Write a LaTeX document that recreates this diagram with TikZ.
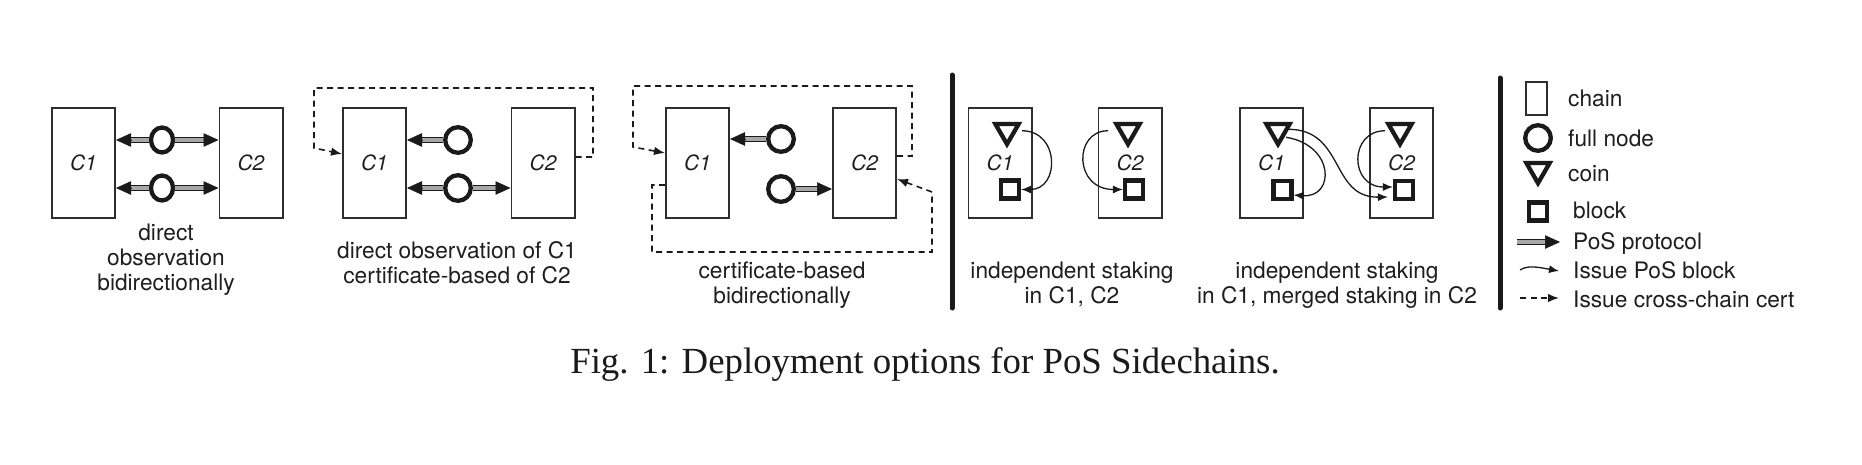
\documentclass[tikz,border=0pt]{standalone}
\usepackage{fontspec}
\setmainfont{Liberation Serif}
\setsansfont{TeX Gyre Heros}
\usetikzlibrary{arrows.meta,shapes.geometric,calc}
\definecolor{ink}{HTML}{1A1A1A}
\definecolor{boxc}{HTML}{2E2E2E}
\definecolor{posgray}{HTML}{A8A8A8}
\definecolor{txt}{HTML}{1E1E1E}
\newcommand{\posconn}[2]{\draw[posshaft] #1 -- #2; \draw[poshead] ($#2!15pt!#1$) -- #2;}
\begin{document}
\begin{tikzpicture}[x=1pt,y=-1pt,
 chain/.style={rectangle, draw=boxc, line width=1.8pt, minimum width=63.2pt, minimum height=110.2pt, inner sep=0pt, text=txt, font=\sffamily\itshape\fontsize{21}{24}\selectfont},
 fnode/.style={circle, draw=ink, line width=4.3pt, minimum size=25.6pt, inner sep=0pt},
 fnodeE/.style={ellipse, draw=ink, line width=4.3pt, minimum width=22pt, minimum height=25pt, inner sep=0pt},
 coin/.style={regular polygon, regular polygon sides=3, shape border rotate=180, draw=ink, line width=4.3pt, minimum size=26.8pt, inner sep=0pt},
 block/.style={rectangle, draw=ink, line width=4.5pt, minimum size=17.6pt, inner sep=0pt},
 poshead/.style={draw=ink, line width=0.5pt, -{Triangle[length=15pt,width=13.5pt]}},
 posshaft/.style={draw=ink, line width=1pt, double=posgray, double distance=3.3pt, shorten >=11pt},
 cert/.style={draw=ink, line width=1.6pt, dash pattern=on 6pt off 4.5pt, -{Latex[length=11pt,width=8.5pt]}},
 issue/.style={draw=ink, line width=1.3pt, -{Latex[length=10pt,width=8pt]}},
 sepline/.style={draw=ink, line width=5pt, line cap=round},
 lbl/.style={font=\sffamily\fontsize{22.7}{25}\selectfont, text=txt, inner sep=0pt, anchor=base},
 leg/.style={lbl, anchor=base west},
]
\useasboundingbox (0,0) rectangle (1862,464);

% ---------- Panel 1
\node[chain] (b1a) at (83.5,163) {C1};
\node[chain] (b1b) at (251,163) {C2};
\node[fnodeE] (n1a) at (162,140) {};
\node[fnodeE] (n1b) at (162,188) {};
\posconn{(n1a)}{(n1a -| b1a.east)}
\posconn{(n1a)}{(n1a -| b1b.west)}
\posconn{(n1b)}{(n1b -| b1a.east)}
\posconn{(n1b)}{(n1b -| b1b.west)}
\node[lbl] (t1a) at (166,240) {direct};
\node[lbl] (t1b) at (166,265.5) {observation};
\node[lbl] (t1c) at (166,290.5) {bidirectionally};

% ---------- Panel 2
\node[chain] (b2a) at (374.5,163) {C1};
\node[chain] (b2b) at (543,163) {C2};
\node[fnode] (n2a) at (458,140) {};
\node[fnode] (n2b) at (458,188) {};
\posconn{(n2a)}{(n2a -| b2a.east)}
\posconn{(n2b)}{(n2b -| b2a.east)}
\posconn{(n2b)}{(n2b -| b2b.west)}
\draw[cert] (b2b.east |- 0,157) -- (593,157) -- (593,88) -- (314,88) -- (314,148) -- (b2a.west |- 0,154);
\node[lbl] (t2a) at (457,258) {direct observation of C1};
\node[lbl] (t2b) at (457,283) {certificate-based of C2};

% ---------- Panel 3
\node[chain] (b3a) at (697.5,163) {C1};
\node[chain] (b3b) at (864.5,163) {C2};
\node[fnode] (n3a) at (781,139) {};
\node[fnode] (n3b) at (781,189) {};
\posconn{(n3a)}{(n3a -| b3a.east)}
\posconn{(n3b)}{(n3b -| b3b.west)}
\draw[cert] (b3b.east |- 0,156) -- (912,156) -- (912,86) -- (633,86) -- (633,147) -- (b3a.west |- 0,153);
\draw[cert] (b3a.west |- 0,185) -- (652,185) -- (652,252) -- (932,252) -- (932,192) -- (b3b.east |- 0,179);
\node[lbl] (t3a) at (782,278) {certificate-based};
\node[lbl] (t3b) at (782,303) {bidirectionally};

% ---------- separator 1
\coordinate (s1t) at (952,75);
\coordinate (s1b) at (952,308);
\draw[sepline] (s1t) -- (s1b);

% ---------- Panel 4
\node[chain] (b4a) at (1000,163) {C1};
\node[chain] (b4b) at (1130,163) {C2};
\node[coin] (c4a) at (1007,130.75) {};
\node[block] (k4a) at (1010,189.5) {};
\node[coin] (c4b) at (1128,130.75) {};
\node[block] (k4b) at (1134,189.5) {};
\draw[issue] ([shift={(15,0)}]c4a.center) .. controls +(38,0) and +(39,0) .. (k4a.east);
\draw[issue] ([shift={(-20,0)}]c4b.center) .. controls +(-34.5,0) and +(-49.5,0) .. (k4b.west);
\node[lbl] (t4a) at (1072,278) {independent staking};
\node[lbl] (t4b) at (1072,303) {in C1, C2};

% ---------- Panel 5
\node[chain] (b5a) at (1271.5,163) {C1};
\node[chain] (b5b) at (1401.5,163) {C2};
\node[coin] (c5a) at (1278,130.75) {};
\node[block] (k5a) at (1282.5,190) {};
\node[coin] (c5b) at (1400,130.75) {};
\node[block] (k5b) at (1404,190) {};
\draw[issue] ([shift={(8,6.5)}]c5a.center) .. controls +(49,8) and +(41.5,3) .. ([shift={(0,5)}]k5a.east);
\draw[issue] ([shift={(10,-1.5)}]c5a.center) .. controls +(57,0) and +(-58,1) .. ([shift={(-5,7)}]k5b.west);
\draw[issue] ([shift={(-15,0)}]c5b.center) .. controls +(-36,0) and +(-44,0) .. ([shift={(0,-3)}]k5b.west);
\node[lbl] (t5a) at (1337,278) {independent staking};
\node[lbl] (t5b) at (1337,303) {in C1, merged staking in C2};

% ---------- separator 2
\coordinate (s2t) at (1500,78);
\coordinate (s2b) at (1500,308);
\draw[sepline] (s2t) -- (s2b);

% ---------- Legend
\node[chain, minimum width=21.2pt, minimum height=33.2pt] (lg1) at (1536.5,98.5) {};
\node[fnode] (lg2) at (1538,138) {};
\node[coin] (lg3) at (1538,169.75) {};
\node[block] (lg4) at (1538,211.5) {};
\coordinate (lp1) at (1517,242);
\coordinate (lp2) at (1560,242);
\posconn{(lp1)}{(lp2)}
\coordinate (li1) at (1520,270);
\coordinate (li2) at (1559,271);
\draw[issue] (li1) .. controls +(8,-5) and +(-22,-4) .. (li2);
\coordinate (lc1) at (1520,298);
\coordinate (lc2) at (1559,298);
\draw[cert] (lc1) -- (lc2);
\node[leg] (lt1) at (1568,106.7) {chain};
\node[leg] (lt2) at (1568,146.7) {full node};
\node[leg] (lt3) at (1568,181.7) {coin};
\node[leg] (lt4) at (1573,218) {block};
\node[leg] (lt5) at (1573,249) {PoS protocol};
\node[leg] (lt6) at (1573,278) {Issue PoS block};
\node[leg] (lt7) at (1573,307) {Issue cross-chain cert};

% ---------- Caption
\node[font=\rmfamily\fontsize{36.8}{40}\selectfont, text=ink, inner sep=0pt, anchor=base] (cap) at (925,373) {Fig. 1: Deployment options for PoS Sidechains.};
\end{tikzpicture}
\end{document}
